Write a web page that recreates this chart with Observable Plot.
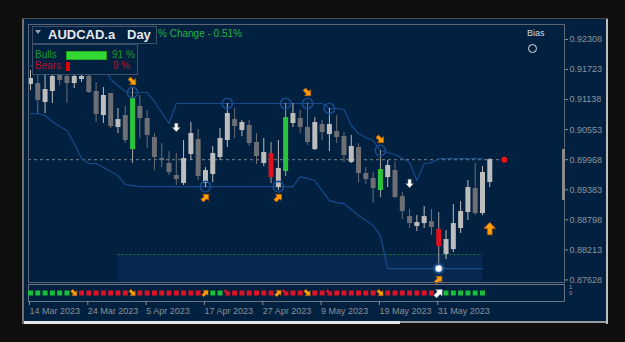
<!DOCTYPE html>
<html><head><meta charset="utf-8">
<script src="https://cdn.jsdelivr.net/npm/d3@7"></script>
<script src="https://cdn.jsdelivr.net/npm/@observablehq/plot@0.6"></script>
<style>
html,body{margin:0;padding:0;background:#0f0f0f;}
body{width:625px;height:342px;position:relative;overflow:hidden;font-family:"Liberation Sans",Arial,sans-serif;}
.abs{position:absolute;}
#panel{left:24px;top:19px;width:582px;height:302px;background:#02203f;}
#lborder{left:22px;top:18px;width:2px;height:306px;background:#6f6f6f;}
#rborder{left:606px;top:18px;width:2px;height:306px;background:#bdbdbd;}
#tborder{left:22px;top:18px;width:586px;height:1px;background:#4a4a4a;}
#scroll1{left:24px;top:321px;width:376px;height:3px;background:#e6e6e6;}
#scroll2{left:400px;top:321px;width:206px;height:2px;background:#9c9c9c;}
#shift{left:562px;top:149px;width:3px;height:51px;background:#8a8a8a;}
#main,#strip{position:absolute;left:0;}
#main{top:0;}
#strip{top:283px;}
.box{position:absolute;border:1px solid #3d5068;background:#02203f;box-sizing:border-box;}
.t{position:absolute;white-space:pre;}
</style></head><body>
<div class="abs" id="panel"></div>
<div class="abs" id="lborder"></div>
<div class="abs" id="rborder"></div>
<div class="abs" id="tborder"></div>
<div class="abs" id="scroll1"></div>
<div class="abs" id="scroll2"></div>
<div id="main"></div>
<div id="strip"></div>
<div class="abs" id="shift"></div>
<div class="box" style="left:32px;top:26px;width:125px;height:18px;"></div>
<div class="abs" style="left:35px;top:30px;width:0;height:0;border-left:3px solid transparent;border-right:3px solid transparent;border-top:4px solid #9aa3ad;"></div>
<div class="t" style="left:48px;top:28px;font-size:13px;line-height:13px;font-weight:bold;color:#e6e8ec;">AUDCAD.a</div>
<div class="t" style="left:127px;top:28px;font-size:13px;line-height:13px;font-weight:bold;color:#e6e8ec;">Day</div>
<div class="t" style="left:158px;top:29px;font-size:10px;line-height:10px;color:#22b548;">% Change - 0.51%</div>
<div class="box" style="left:32px;top:44px;width:106px;height:31px;"></div>
<div class="t" style="left:35px;top:50px;font-size:10px;line-height:10px;color:#1f9a2c;">Bulls</div>
<div class="abs" style="left:66px;top:51px;width:41px;height:9px;background:#34d834;box-shadow:inset 0 0 0 1px #1fa51f;"></div>
<div class="t" style="left:112px;top:50px;font-size:10px;line-height:10px;color:#1f9a2c;">91 %</div>
<div class="t" style="left:35px;top:61px;font-size:10px;line-height:10px;color:#b3162a;">Bears</div>
<div class="abs" style="left:66px;top:62px;width:4px;height:9px;background:#e00000;"></div>
<div class="t" style="left:113px;top:61px;font-size:10px;line-height:10px;color:#b3162a;">9 %</div>
<div class="t" style="left:527px;top:29px;font-size:9px;line-height:9px;color:#d4dae2;">Bias</div>
<div class="abs" style="left:527.5px;top:43.5px;width:9px;height:9px;border:1.5px solid #e4e4e4;border-radius:50%;box-sizing:border-box;"></div>
<div class="t" style="left:569px;top:284px;font-size:6px;line-height:6px;color:#9a9a9a;">1</div>
<div class="t" style="left:569px;top:290px;font-size:6px;line-height:6px;color:#9a9a9a;">0</div>
<script>
// ---- data ----
const opens = [
0.91432, 0.91451, 0.91081, 0.91296, 0.91627, 0.91588, 0.91451, 0.91529, 0.91588, 0.91296,
0.90828, 0.91257, 0.90595, 0.90828, 0.90166, 0.91004, 0.90770, 0.90400, 0.89991, 0.89894,
0.89660, 0.89504, 0.90069, 0.90361, 0.89504, 0.89679, 0.90011, 0.90342, 0.90750, 0.90536,
0.90634, 0.90303, 0.89894, 0.90088, 0.89426, 0.89738, 0.90673, 0.90770, 0.90595, 0.90166,
0.90653, 0.90458, 0.90517, 0.90419, 0.89913, 0.90205, 0.89699, 0.89601, 0.89368, 0.89621,
0.89757, 0.89251, 0.88862, 0.88667, 0.88725, 0.88764, 0.88609, 0.88122, 0.88219, 0.88628,
0.88940, 0.89407, 0.88920, 0.89524];
const closes = [
0.91549, 0.91120, 0.91335, 0.91588, 0.91510, 0.91451, 0.91588, 0.91588, 0.91276, 0.90848,
0.91218, 0.90614, 0.90750, 0.90342, 0.91159, 0.90770, 0.90439, 0.90011, 0.89952, 0.89718,
0.89582, 0.89991, 0.90478, 0.89640, 0.89757, 0.90088, 0.90380, 0.90867, 0.90614, 0.90692,
0.90283, 0.90030, 0.90108, 0.89621, 0.89796, 0.90789, 0.90867, 0.90595, 0.90303, 0.90692,
0.90497, 0.90653, 0.90400, 0.90050, 0.90225, 0.89699, 0.89582, 0.89407, 0.89777, 0.89855,
0.89232, 0.88959, 0.88725, 0.88745, 0.88862, 0.88648, 0.88278, 0.88414, 0.88725, 0.88959,
0.89426, 0.88920, 0.89718, 0.89968];
const highs = [
0.91704, 0.91666, 0.91646, 0.91782, 0.91743, 0.91704, 0.91704, 0.91666, 0.91666, 0.91471,
0.91373, 0.91257, 0.90965, 0.91004, 0.91354, 0.91218, 0.90926, 0.90478, 0.90283, 0.90127,
0.90088, 0.90342, 0.90692, 0.90556, 0.89816, 0.90225, 0.90575, 0.91062, 0.90965, 0.90731,
0.90731, 0.90478, 0.90380, 0.90303, 0.90342, 0.91062, 0.91062, 0.90926, 0.91081, 0.90789,
0.90731, 0.90965, 0.90828, 0.90497, 0.90439, 0.90283, 0.89816, 0.89718, 0.90147, 0.89952,
0.89913, 0.89329, 0.88998, 0.88881, 0.89056, 0.88998, 0.88940, 0.88589, 0.89095, 0.89154,
0.89563, 0.89894, 0.89835, 0.89991];
const lows = [
0.91315, 0.90867, 0.90867, 0.91062, 0.91412, 0.91062, 0.91354, 0.91471, 0.91257, 0.90692,
0.90673, 0.90575, 0.90478, 0.90283, 0.89894, 0.90380, 0.90186, 0.89757, 0.89816, 0.89660,
0.89465, 0.89465, 0.89952, 0.89563, 0.89426, 0.89524, 0.89952, 0.90205, 0.90380, 0.90419,
0.90225, 0.89874, 0.89835, 0.89504, 0.89368, 0.89640, 0.90595, 0.90478, 0.90244, 0.90147,
0.90342, 0.90127, 0.90283, 0.89913, 0.89894, 0.89524, 0.89485, 0.89115, 0.89232, 0.89426,
0.89212, 0.88803, 0.88628, 0.88570, 0.88628, 0.88492, 0.87849, 0.88025, 0.88161, 0.88531,
0.88784, 0.88881, 0.88881, 0.89426];
const upperBand = [
0.91800, 0.91800, 0.91800, 0.91800, 0.91800, 0.91800, 0.91800, 0.91800, 0.91800, 0.91800,
0.91800, 0.91529, 0.91412, 0.91296, 0.91276, 0.91276, 0.91276, 0.91101, 0.90887, 0.90673,
0.91062, 0.91062, 0.91062, 0.91062, 0.91062, 0.91062, 0.91062, 0.91062, 0.91062, 0.91062,
0.91062, 0.91062, 0.91062, 0.91062, 0.91062, 0.91062, 0.91062, 0.91062, 0.91062, 0.91062,
0.91062, 0.90965, 0.90965, 0.90945, 0.90634, 0.90478, 0.90400, 0.90342, 0.90147, 0.90108,
0.90069, 0.89991, 0.89913, 0.89563, 0.89894, 0.89913, 0.89991, 0.89991, 0.89991, 0.89991,
0.89991, 0.89991, 0.89991, null];
const lowerBand = [
0.90867, 0.90867, 0.90828, 0.90711, 0.90614, 0.90536, 0.90283, 0.89991, 0.89894, 0.89894,
0.89816, 0.89738, 0.89660, 0.89485, 0.89465, 0.89446, 0.89446, 0.89446, 0.89446, 0.89446,
0.89446, 0.89446, 0.89446, 0.89446, 0.89446, 0.89446, 0.89446, 0.89446, 0.89446, 0.89446,
0.89446, 0.89446, 0.89446, 0.89446, 0.89446, 0.89446, 0.89446, 0.89640, 0.89601, 0.89563,
0.89368, 0.89173, 0.89134, 0.89115, 0.88998, 0.88881, 0.88784, 0.88687, 0.88492, 0.87849,
0.87849, 0.87849, 0.87849, 0.87849, 0.87849, 0.87849, 0.87849, 0.87849, 0.87849, 0.87849,
0.87849, 0.87849, 0.87849, null];
const greenCandles = [14, 35, 48];
const redCandles = [33, 56];
const ringsUpper = [14, 27, 35, 38, 41, 48];
const ringsLower = [24, 34];
const touchLower = [56];
const arrowsAbove = [14, 38, 48];      // orange, pointing down-right
const arrowsBelow = [24, 34, 56];      // orange, pointing up-right
const whiteDownIdx = [20, 52];
const whiteDownPrice = [0.90595, 0.89504];
const bigUpIdx = [63];
const bigUpPrice = [0.88628];
const zoneStart = [12], zoneEnd = [62], zoneTop = [0.88122];
const lastPrice = 0.89968;
const lastMarkerIdx = 65;
const priceTicks = [0.92308, 0.91723, 0.91138, 0.90553, 0.89968, 0.89383, 0.88798, 0.88213, 0.87628];
const dateTickIdx = [0, 8, 16, 24, 32, 40, 48, 56];
const dateLabels = ["14 Mar 2023", "24 Mar 2023", "5 Apr 2023", "17 Apr 2023", "27 Apr 2023", "9 May 2023", "19 May 2023", "31 May 2023"];
// strip: G green square, R red square, o orange down-right, u orange up-right, r red down-right, w white up-right
const stripState = ["G","G","G","G","G","G","o","R","R","R","R","R","R","R","o",
"R","R","R","R","R","R","R","R","R","u","G","G","r","R","R","R","R","R","R","u","r",
"R","R","o","R","R","r","R","R","R","R","R","R","o","R","R","R","R","R","R","R","w",
"G","G","G","G","G","G"];

// ---- scales ----
const xDomain = [-0.274, 73.25];
const yDomain = [0.87578, 0.92600];

function blockArrow(angle) {
  const pts = [[0,-1],[0.92,-0.02],[0.38,-0.02],[0.38,1],[-0.38,1],[-0.38,-0.02],[-0.92,-0.02]];
  const a = angle * Math.PI / 180, c = Math.cos(a), s = Math.sin(a);
  return {draw(ctx, size) {
    const r = Math.sqrt(size / Math.PI);
    pts.forEach(([px, py], k) => {
      const X = (px * c - py * s) * r, Y = (px * s + py * c) * r;
      if (k) ctx.lineTo(X, Y); else ctx.moveTo(X, Y);
    });
    ctx.closePath();
  }};
}
const arrDR = blockArrow(135), arrUR = blockArrow(45), arrDown = blockArrow(180), arrUp = blockArrow(0);

const bars = opens.map((o, i) => ({i, o, c: closes[i], h: highs[i], l: lows[i]}));
const special = i => greenCandles.includes(i) || redCandles.includes(i);
const bodyColor = d => greenCandles.includes(d.i) ? "#27c43c" : redCandles.includes(d.i) ? "#e0101c" : (d.c >= d.o ? "#bdbdbd" : "#6d6f74");
const wickColor = d => special(d.i) ? "#a3a3a3" : bodyColor(d);
const bands = upperBand.map((u, i) => ({i, u, lo: lowerBand[i]}));
const zone = zoneStart.map((s, k) => ({s, e: zoneEnd[k], top: zoneTop[k]}));
const ringU = ringsUpper.map(i => ({i, p: upperBand[i]}));
const ringL = ringsLower.map(i => ({i, p: lowerBand[i]}));
const touch = touchLower.map(i => ({i, p: lowerBand[i]}));
const arrA = arrowsAbove.map(i => ({i, p: upperBand[i]}));
const arrB = arrowsBelow.map(i => ({i, p: lowerBand[i]}));
const wDown = whiteDownIdx.map((i, k) => ({i, p: whiteDownPrice[k]}));
const bUp = bigUpIdx.map((i, k) => ({i, p: bigUpPrice[k]}));

const main = Plot.plot({
  width: 625, height: 342, marginLeft: 28, marginRight: 61, marginTop: 24, marginBottom: 60,
  style: {background: "transparent", color: "#8d949d", fontFamily: "Liberation Sans, Arial, sans-serif", fontSize: "9px"},
  x: {domain: xDomain, axis: null},
  y: {domain: yDomain, axis: null},
  marks: [
    Plot.rect(zone, {x1: "s", x2: "e", y1: yDomain[0], y2: "top", fill: "#08294f"}),
    Plot.ruleY(zone, {y: "top", x1: "s", x2: "e", stroke: "#1f7a32", strokeDasharray: "2,2", strokeWidth: 1}),
    Plot.ruleY([lastPrice], {x1: xDomain[0], x2: lastMarkerIdx, stroke: "#7d848c", strokeDasharray: "3,3", strokeWidth: 1}),
    Plot.line(bands, {x: "i", y: "u", stroke: "#174b8e", strokeWidth: 1.2}),
    Plot.line(bands, {x: "i", y: "lo", stroke: "#174b8e", strokeWidth: 1.2}),
    Plot.ruleX(bars, {x: "i", y1: "l", y2: "h", stroke: wickColor, strokeWidth: 1}),
    Plot.ruleX(bars, {x: "i", y1: "o", y2: "c", stroke: bodyColor, strokeWidth: 5}),
    Plot.dot(ringU, {x: "i", y: "p", r: 5.2, stroke: "#174b8e", strokeWidth: 1.6, fill: "none"}),
    Plot.dot(ringL, {x: "i", y: "p", r: 5.2, stroke: "#174b8e", strokeWidth: 1.6, fill: "none"}),
    Plot.dot(touch, {x: "i", y: "p", r: 6, fill: "#1d4f8f", fillOpacity: 0.7}),
    Plot.dot(touch, {x: "i", y: "p", r: 3.5, fill: "#ffffff", stroke: "#6f9fd6", strokeWidth: 0.8}),
    Plot.dot(arrA, {x: "i", y: "p", dy: -11, r: 4.6, symbol: arrDR, fill: "#ff9d0a", stroke: "#c25c00", strokeWidth: 0.6}),
    Plot.dot(arrB, {x: "i", y: "p", dy: 11, r: 4.6, symbol: arrUR, fill: "#ff9d0a", stroke: "#c25c00", strokeWidth: 0.6}),
    Plot.dot(wDown, {x: "i", y: "p", r: 4.2, symbol: arrDown, fill: "#ffffff", stroke: "#8a8a8a", strokeWidth: 0.6}),
    Plot.dot(bUp, {x: "i", y: "p", r: 6.2, symbol: arrUp, fill: "#ff9d0a", stroke: "#c25c00", strokeWidth: 0.7}),
    Plot.dot([{i: lastMarkerIdx, p: lastPrice}], {x: "i", y: "p", r: 3, fill: "#ee1111"}),
    Plot.frame({stroke: "#5b6573"}),
    Plot.axisY(priceTicks, {anchor: "right", label: null, tickSize: 3, tickPadding: 2, tickFormat: d => d.toFixed(5), fontSize: 9})
  ]
});
document.getElementById("main").appendChild(main);

const stripData = stripState.map((s, i) => ({i, s}));
const sq = stripData.filter(d => d.s === "G" || d.s === "R");
const dateMap = new Map(dateTickIdx.map((t, k) => [t, dateLabels[k]]));
const strip = Plot.plot({
  width: 625, height: 40, marginLeft: 28, marginRight: 61, marginTop: 1, marginBottom: 22,
  style: {background: "transparent", color: "#8a9098", fontFamily: "Liberation Sans, Arial, sans-serif", fontSize: "9px"},
  x: {domain: xDomain, axis: null},
  y: {domain: [0, 1], axis: null},
  marks: [
    Plot.frame({stroke: "#6b7380"}),
    Plot.dot(sq, {x: "i", y: () => 0.5, symbol: "square", r: 2.8, fill: d => d.s === "G" ? "#17c23a" : "#de1426"}),
    Plot.dot(stripData.filter(d => d.s === "o"), {x: "i", y: () => 0.5, symbol: arrDR, r: 3.8, fill: "#ff9d0a", stroke: "#c25c00", strokeWidth: 0.5}),
    Plot.dot(stripData.filter(d => d.s === "u"), {x: "i", y: () => 0.5, symbol: arrUR, r: 3.8, fill: "#ff9d0a", stroke: "#c25c00", strokeWidth: 0.5}),
    Plot.dot(stripData.filter(d => d.s === "r"), {x: "i", y: () => 0.5, symbol: arrDR, r: 3.8, fill: "#e0142a", stroke: "#9a0a18", strokeWidth: 0.5}),
    Plot.dot(stripData.filter(d => d.s === "w"), {x: "i", y: () => 0.5, symbol: arrUR, r: 5, fill: "#ffffff", stroke: "#9a9a9a", strokeWidth: 0.5}),
    Plot.axisX(dateTickIdx, {anchor: "bottom", label: null, tickSize: 4, tickPadding: 2, tickFormat: d => dateMap.get(d), textAnchor: "start", dx: -1, fontSize: 9})
  ]
});
document.getElementById("strip").appendChild(strip);
</script>
</body></html>
